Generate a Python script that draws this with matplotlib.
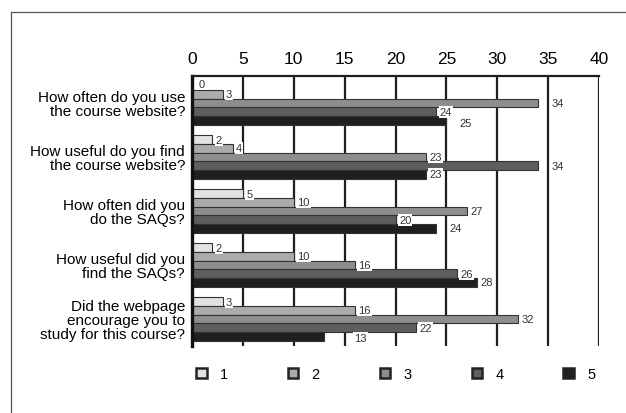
import matplotlib
matplotlib.use("Agg")
import matplotlib.pyplot as plt
from matplotlib.patches import Patch
from matplotlib.lines import Line2D

plt.rcParams['font.family'] = ['Liberation Sans', 'DejaVu Sans']

questions = [
    "How often do you use\nthe course website?",
    "How useful do you find\nthe course website?",
    "How often did you\ndo the SAQs?",
    "How useful did you\nfind the SAQs?",
    "Did the webpage\nencourage you to\nstudy for this course?",
]
ratings = ["1", "2", "3", "4", "5"]

rating_1 = [0, 2, 5, 2, 3]
rating_2 = [3, 4, 10, 10, 16]
rating_3 = [34, 23, 27, 16, 32]
rating_4 = [24, 34, 20, 26, 22]
rating_5 = [25, 23, 24, 28, 13]
series = [rating_1, rating_2, rating_3, rating_4, rating_5]

colors = ["#e2e2e2", "#ababab", "#8e8e8e", "#5e5e5e", "#221e1f"]

# extra shift for a few value labels, in points (dx, dy)
nudge = {(0, 0): (2, 1.5), (0, 2): (7, 0), (0, 4): (7, -2),
         (1, 3): (7, 0), (2, 4): (7, 0), (4, 4): (19, -1)}

fig = plt.figure(figsize=(6.26, 4.14), dpi=100)
ax = fig.add_axes([192 / 626, 1 - 347 / 414, 407 / 626, 270 / 414])

bar_h = 0.16
for j, vals in enumerate(series):
    ys = [g - 0.32 + bar_h * j for g in range(len(questions))]
    ax.barh(ys, vals, height=bar_h, color=colors[j], edgecolor="#333333",
            linewidth=0.8, zorder=2)
    for g, (y, v) in enumerate(zip(ys, vals)):
        dx, dy = nudge.get((g, j), (0, 0))
        ax.annotate(str(v), (v, y), xytext=(2.5 + dx, dy), textcoords="offset points",
                    ha="left", va="center", fontsize=8, color="#333333", zorder=4,
                    bbox=dict(boxstyle="square,pad=0.1", fc="white", ec="none"))

ax.set_xlim(0, 40)
ax.set_ylim(4.5, -0.5)
ax.set_xticks(range(0, 41, 5))
ax.xaxis.tick_top()
ax.tick_params(axis="x", length=0, pad=7, labelsize=12.5)
ax.set_yticks(range(len(questions)))
ax.set_yticklabels(questions, fontsize=11, linespacing=1.0)
ax.tick_params(axis="y", length=0, pad=5)
ax.set_axisbelow(True)
ax.grid(axis="x", color="#1e1e1e", linewidth=1.6)
ax.grid(axis="y", visible=False)

for side in ("bottom", "right"):
    ax.spines[side].set_visible(False)
ax.spines["top"].set_linewidth(1.6)
ax.spines["top"].set_color("#1e1e1e")
ax.spines["left"].set_linewidth(2.4)
ax.spines["left"].set_color("#111111")

handles = [Patch(facecolor=c, edgecolor="#222222", linewidth=1.8) for c in colors]
fig.legend(handles, ratings, loc="center", bbox_to_anchor=(0.632, 0.094), ncol=5,
           frameon=False, fontsize=10.5, handlelength=0.75, handleheight=0.75,
           handletextpad=0.9, columnspacing=4.1)

# chart border
fig.add_artist(Line2D([11 / 626, 11 / 626], [0, 1 - 13 / 414], color="#555555", linewidth=0.9))
fig.add_artist(Line2D([11 / 626, 1], [1 - 13 / 414, 1 - 13 / 414], color="#555555", linewidth=0.9))

fig.savefig("out.png", dpi=100, facecolor="white")
